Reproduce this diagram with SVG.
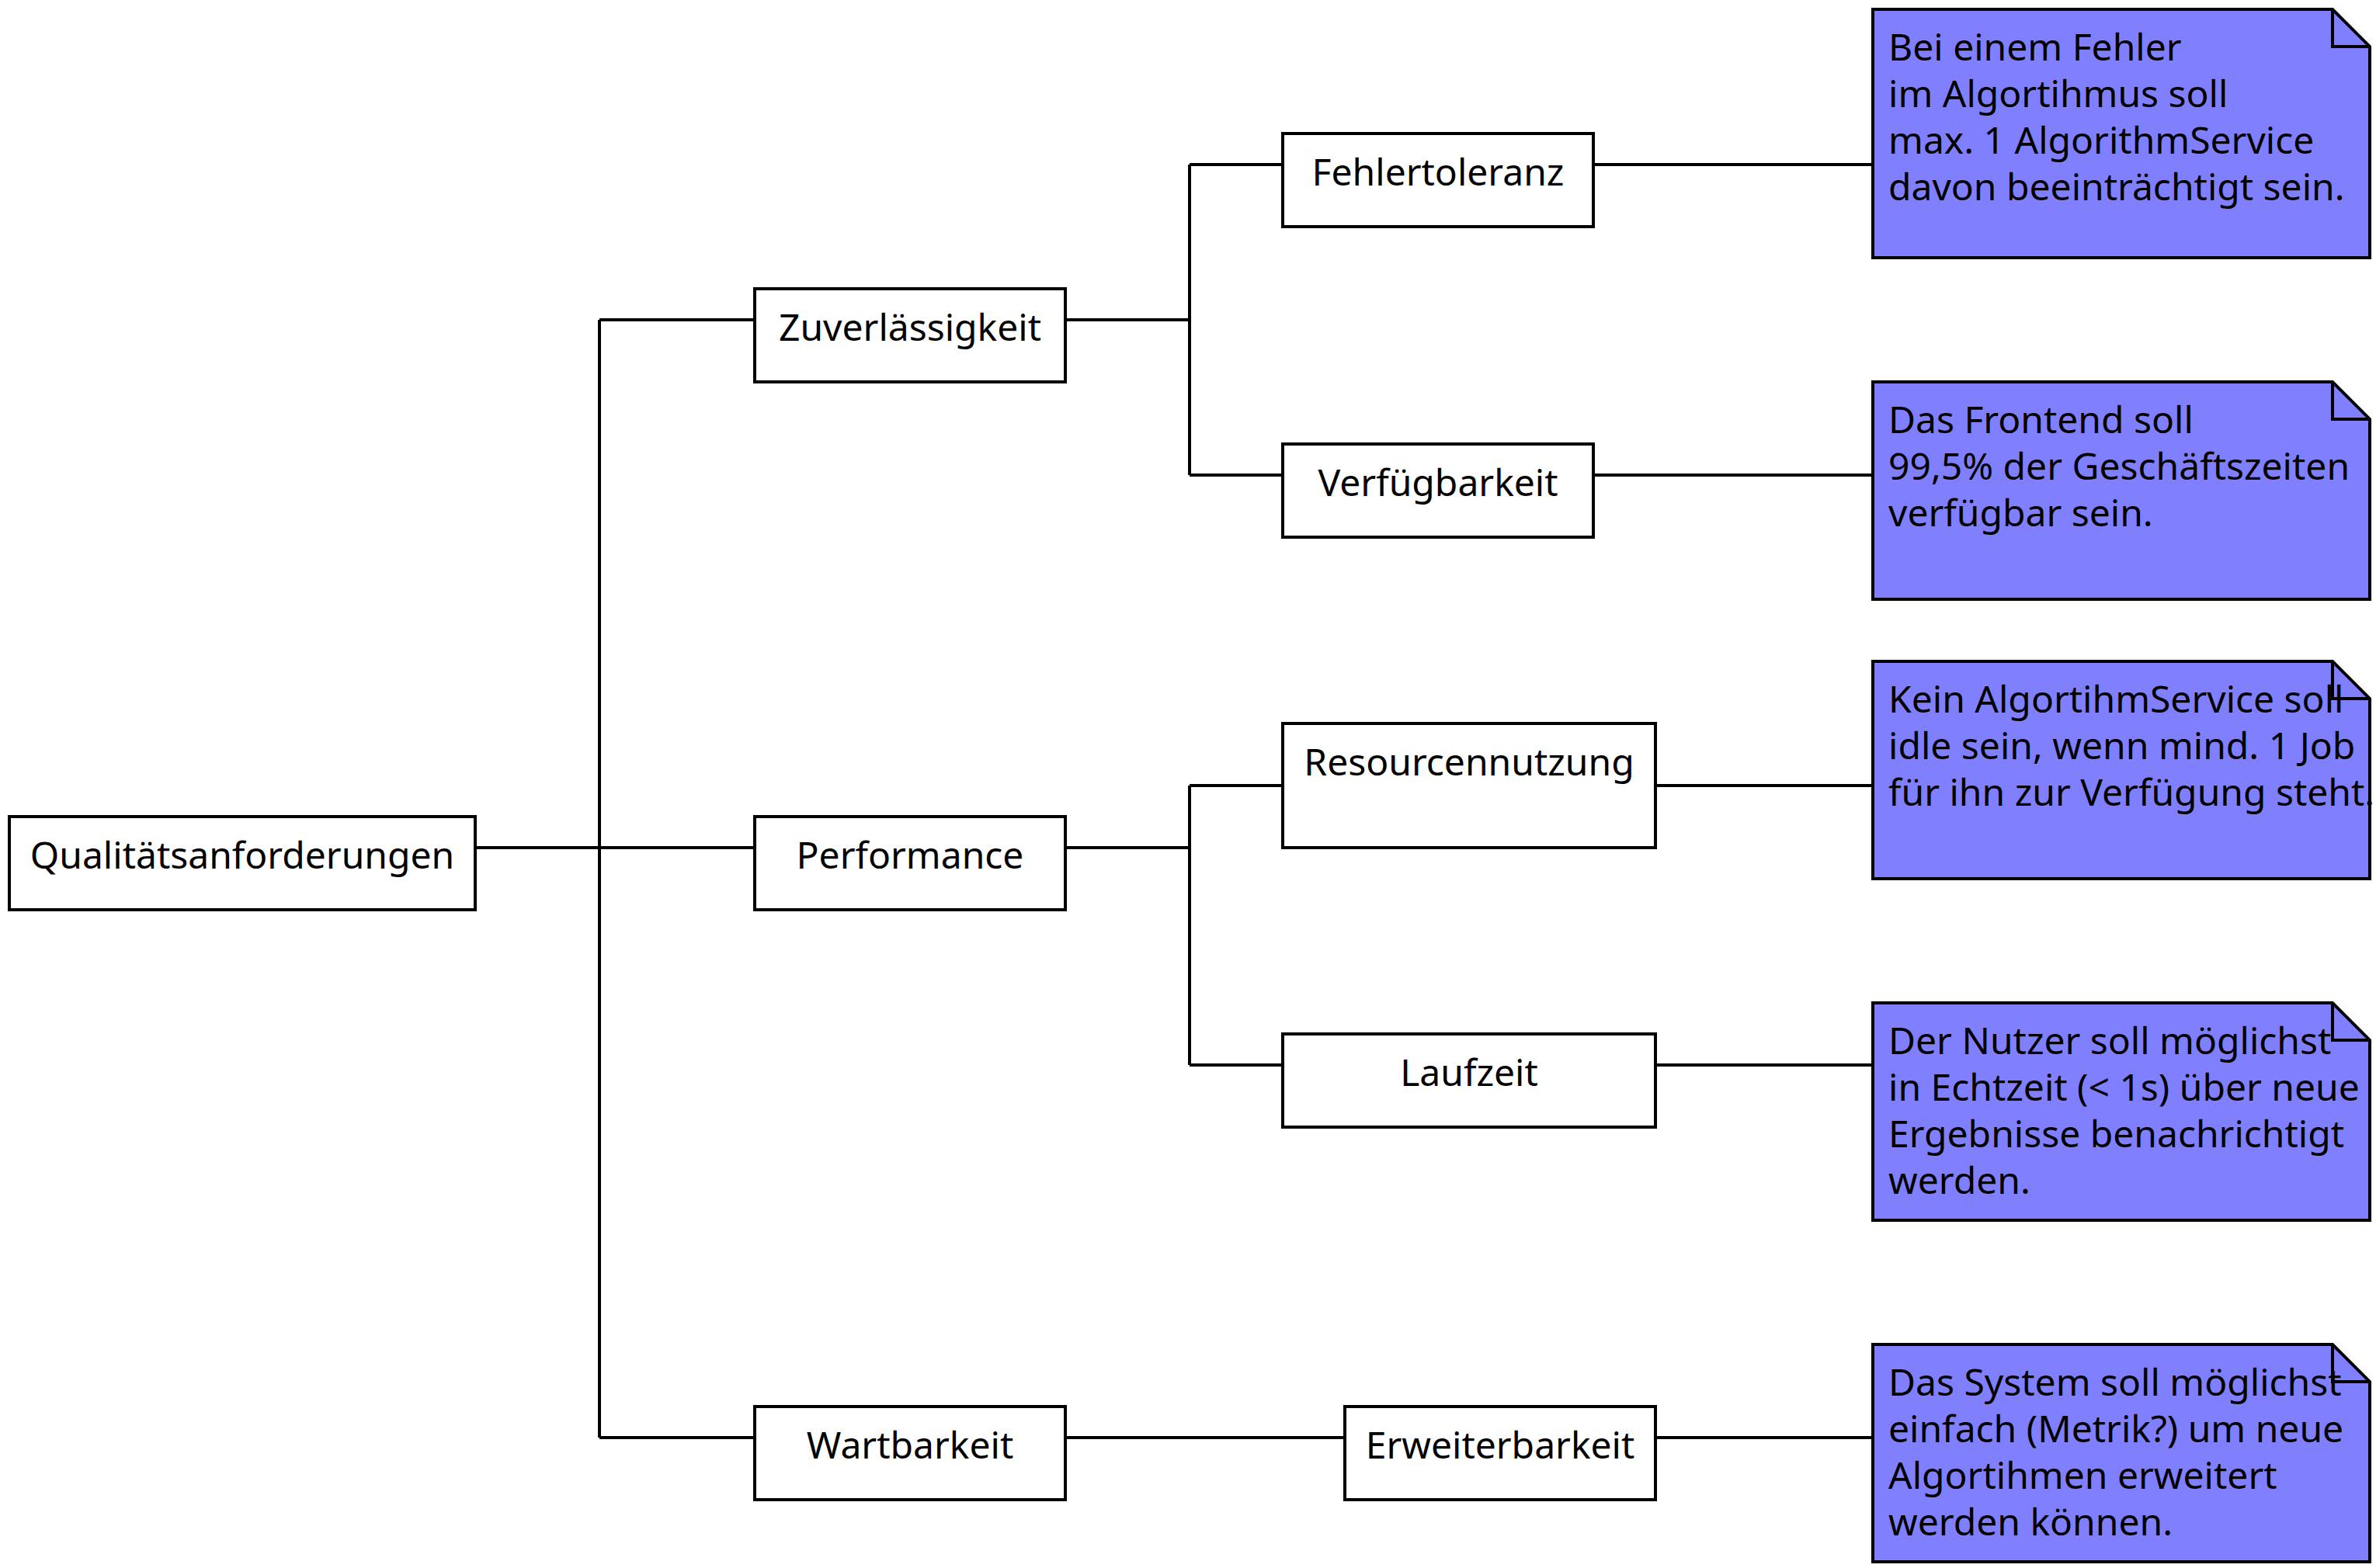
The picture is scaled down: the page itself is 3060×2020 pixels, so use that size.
<svg xmlns="http://www.w3.org/2000/svg" width="3060" height="2020" viewBox="0 0 3060 2020">
<style>
.box{fill:#ffffff;stroke:#000000;stroke-width:4}
.note{fill:#8080ff;stroke:#000000;stroke-width:4;stroke-linejoin:miter}
.fold{fill:none;stroke:#000000;stroke-width:4}
.lbl{font-family:"Noto Sans","Open Sans",sans-serif;font-size:48px;fill:#000000;text-anchor:middle}
.ntxt{font-family:"Noto Sans","Open Sans",sans-serif;font-size:48px;fill:#000000}
.conn{fill:none;stroke:#000000;stroke-width:4}
</style>
<rect width="3060" height="2020" fill="#ffffff"/>
<g id="connectors">
<path class="conn" d="M612 1092H972"/>
<path class="conn" d="M772 412V1852"/>
<path class="conn" d="M772 412H972"/>
<path class="conn" d="M772 1852H972"/>
<path class="conn" d="M1372 412H1532"/>
<path class="conn" d="M1532 212V612"/>
<path class="conn" d="M1532 212H1652"/>
<path class="conn" d="M1532 612H1652"/>
<path class="conn" d="M2052 212H2412"/>
<path class="conn" d="M2052 612H2412"/>
<path class="conn" d="M1372 1092H1532"/>
<path class="conn" d="M1532 1012V1372"/>
<path class="conn" d="M1532 1012H1652"/>
<path class="conn" d="M1532 1372H1652"/>
<path class="conn" d="M2132 1012H2412"/>
<path class="conn" d="M2132 1372H2412"/>
<path class="conn" d="M1372 1852H1732"/>
<path class="conn" d="M2132 1852H2412"/>
</g>
<g id="qualitaetsanforderungen">
<rect class="box" x="12" y="1052" width="600" height="120"/>
<text class="lbl" x="312" y="1119">Qualitätsanforderungen</text>
</g>
<g id="zuverlaessigkeit">
<rect class="box" x="972" y="372" width="400" height="120"/>
<text class="lbl" x="1172" y="439">Zuverlässigkeit</text>
</g>
<g id="performance">
<rect class="box" x="972" y="1052" width="400" height="120"/>
<text class="lbl" x="1172" y="1119">Performance</text>
</g>
<g id="wartbarkeit">
<rect class="box" x="972" y="1812" width="400" height="120"/>
<text class="lbl" x="1172" y="1879">Wartbarkeit</text>
</g>
<g id="fehlertoleranz">
<rect class="box" x="1652" y="172" width="400" height="120"/>
<text class="lbl" x="1852" y="239">Fehlertoleranz</text>
</g>
<g id="verfuegbarkeit">
<rect class="box" x="1652" y="572" width="400" height="120"/>
<text class="lbl" x="1852" y="639">Verfügbarkeit</text>
</g>
<g id="resourcennutzung">
<rect class="box" x="1652" y="932" width="480" height="160"/>
<text class="lbl" x="1892" y="999">Resourcennutzung</text>
</g>
<g id="laufzeit">
<rect class="box" x="1652" y="1332" width="480" height="120"/>
<text class="lbl" x="1892" y="1399">Laufzeit</text>
</g>
<g id="erweiterbarkeit">
<rect class="box" x="1732" y="1812" width="400" height="120"/>
<text class="lbl" x="1932" y="1879">Erweiterbarkeit</text>
</g>
<g id="note1">
<path class="note" d="M2412 12H3004L3052 60V332H2412Z"/>
<path class="fold" d="M3004 12V60H3052"/>
<text class="ntxt" x="2432" y="78"><tspan x="2432" y="78">Bei einem Fehler</tspan><tspan x="2432" y="138">im Algortihmus soll</tspan><tspan x="2432" y="198">max. 1 AlgorithmService</tspan><tspan x="2432" y="258">davon beeinträchtigt sein.</tspan></text>
</g>
<g id="note2">
<path class="note" d="M2412 492H3004L3052 540V772H2412Z"/>
<path class="fold" d="M3004 492V540H3052"/>
<text class="ntxt" x="2432" y="558"><tspan x="2432" y="558">Das Frontend soll</tspan><tspan x="2432" y="618">99,5% der Geschäftszeiten</tspan><tspan x="2432" y="678">verfügbar sein.</tspan></text>
</g>
<g id="note3">
<path class="note" d="M2412 852H3004L3052 900V1132H2412Z"/>
<path class="fold" d="M3004 852V900H3052"/>
<text class="ntxt" x="2432" y="918"><tspan x="2432" y="918">Kein AlgortihmService soll</tspan><tspan x="2432" y="978">idle sein, wenn mind. 1 Job</tspan><tspan x="2432" y="1038">für ihn zur Verfügung steht.</tspan></text>
</g>
<g id="note4">
<path class="note" d="M2412 1292H3004L3052 1340V1572H2412Z"/>
<path class="fold" d="M3004 1292V1340H3052"/>
<text class="ntxt" x="2432" y="1358"><tspan x="2432" y="1358">Der Nutzer soll möglichst</tspan><tspan x="2432" y="1418">in Echtzeit (&lt; 1s) über neue</tspan><tspan x="2432" y="1478">Ergebnisse benachrichtigt</tspan><tspan x="2432" y="1538">werden.</tspan></text>
</g>
<g id="note5">
<path class="note" d="M2412 1732H3004L3052 1780V2012H2412Z"/>
<path class="fold" d="M3004 1732V1780H3052"/>
<text class="ntxt" x="2432" y="1798"><tspan x="2432" y="1798">Das System soll möglichst</tspan><tspan x="2432" y="1858">einfach (Metrik?) um neue</tspan><tspan x="2432" y="1918">Algortihmen erweitert</tspan><tspan x="2432" y="1978">werden können.</tspan></text>
</g>
</svg>
